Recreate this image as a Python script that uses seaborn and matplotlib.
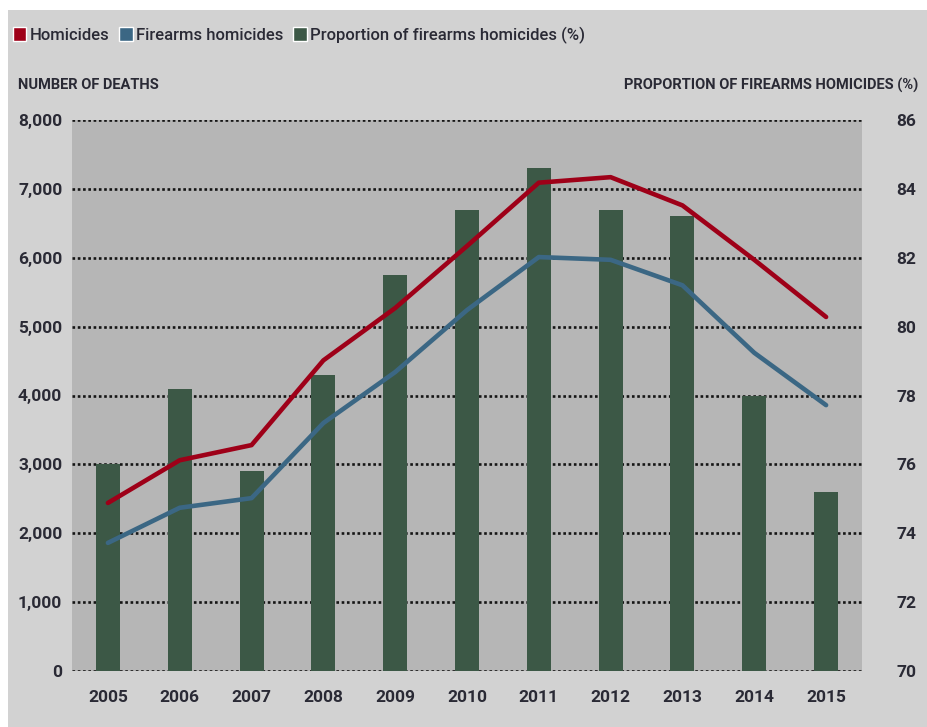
import matplotlib
matplotlib.use("Agg")
import matplotlib.pyplot as plt
from matplotlib.patches import Patch, Rectangle
import seaborn as sns
import pandas as pd

years = ["2005", "2006", "2007", "2008", "2009", "2010", "2011", "2012", "2013", "2014", "2015"]
homicides = [2440, 3060, 3280, 4510, 5270, 6170, 7090, 7170, 6760, 5970, 5140]
firearms_homicides = [1860, 2370, 2510, 3600, 4340, 5240, 6010, 5970, 5600, 4620, 3860]
firearms_share = [76.0, 78.2, 75.8, 78.6, 81.5, 83.4, 84.6, 83.4, 83.2, 78.0, 75.2]

left_ticks = [0, 1000, 2000, 3000, 4000, 5000, 6000, 7000, 8000]
right_ticks = [70, 72, 74, 76, 78, 80, 82, 84, 86]

RED = "#9e0018"
BLUE = "#3b6784"
GREEN = "#3c5846"
TEXT = "#2a2a35"
OUTER = "#d2d2d2"
PANEL = "#b6b6b6"

sns.set_theme(style="white")
plt.rcParams["font.family"] = ["Roboto", "DejaVu Sans"]
plt.rcParams["font.weight"] = "bold"
plt.rcParams["xtick.labelsize"] = 12.5
plt.rcParams["ytick.labelsize"] = 12.5
plt.rcParams["xtick.color"] = TEXT
plt.rcParams["ytick.color"] = TEXT

df = pd.DataFrame({
    "year": years,
    "pos": range(len(years)),
    "homicides": homicides,
    "firearms": firearms_homicides,
    "share": firearms_share,
})

fig = plt.figure(figsize=(9.28, 7.27), dpi=100)
fig.patch.set_facecolor("white")
fig.patches.append(Rectangle((8 / 928, 0), 1 - 8 / 928, 1 - 10 / 727,
                             transform=fig.transFigure, facecolor=OUTER,
                             edgecolor="none", zorder=-10))

ax_pct = fig.add_axes([72 / 928, 1 - 671 / 727, (862 - 72) / 928, (671 - 120) / 727])
ax_cnt = ax_pct.twinx()
ax_pct.set_facecolor(PANEL)

# Share of firearm homicides as bars on the right-hand scale
sns.barplot(data=df, x="year", y="share", color=GREEN, width=0.335,
            saturation=1, linewidth=0, edgecolor="none", ax=ax_pct, zorder=2)
ax_pct.set_ylim(70, 86)
ax_pct.set_yticks(right_ticks, labels=[str(v) for v in right_ticks])
ax_pct.yaxis.tick_right()
ax_pct.set_axisbelow(True)
ax_pct.grid(axis="y", color="#151515", linestyle=(0, (1, 1)), linewidth=1.9, zorder=0)
ax_pct.grid(axis="x", visible=False)

# Homicide counts as lines on the left-hand scale
ax_cnt.set_zorder(ax_pct.get_zorder() + 1)
ax_cnt.patch.set_visible(False)
sns.lineplot(data=df, x="pos", y="homicides", color=RED, linewidth=3.3, ax=ax_cnt)
sns.lineplot(data=df, x="pos", y="firearms", color=BLUE, linewidth=3.3, ax=ax_cnt)
ax_cnt.set_ylim(0, 8000)
ax_cnt.set_yticks(left_ticks, labels=[f"{v:,}" for v in left_ticks])
ax_cnt.yaxis.tick_left()
ax_cnt.grid(False)

for ax in (ax_pct, ax_cnt):
    ax.set_xlim(-0.5, 10.5)
    ax.set_xlabel("")
    ax.set_ylabel("")
    for s in ax.spines.values():
        s.set_visible(False)

ax_pct.set_xticks(range(len(years)), labels=years)
ax_pct.tick_params(axis="x", length=0, pad=14, labelcolor=TEXT)
ax_pct.tick_params(axis="y", length=0, pad=25, labelcolor=TEXT)
ax_cnt.tick_params(axis="y", length=0, pad=7, labelcolor=TEXT)

fig.text(18 / 928, 1 - 85 / 727, "NUMBER OF DEATHS", fontsize=10.5,
         fontweight="bold", color=TEXT, ha="left", va="center")
fig.text(918 / 928, 1 - 85 / 727, "PROPORTION OF FIREARMS HOMICIDES (%)",
         fontsize=10.5, fontweight="bold", color=TEXT, ha="right", va="center")

handles = [
    Patch(facecolor=RED, label="Homicides"),
    Patch(facecolor=BLUE, label="Firearms homicides"),
    Patch(facecolor=GREEN, label="Proportion of firearms homicides (%)"),
]
leg = fig.legend(handles=handles, loc="center left", bbox_to_anchor=(13 / 928, 1 - 35 / 727),
                 ncol=3, frameon=False, handlelength=0.8, handleheight=0.9,
                 handletextpad=0.2, columnspacing=0.6, borderpad=0, borderaxespad=0,
                 prop={"size": 12, "weight": "medium"})
for t in leg.get_texts():
    t.set_color(TEXT)

fig.savefig("out.png", dpi=100, facecolor=fig.get_facecolor())
